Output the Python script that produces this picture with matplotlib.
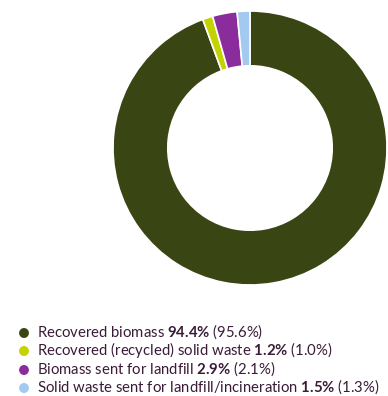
import matplotlib
matplotlib.use("Agg")
import matplotlib.pyplot as plt

labels = [
    "Recovered biomass",
    "Recovered (recycled) solid waste",
    "Biomass sent for landfill",
    "Solid waste sent for landfill/incineration",
]
current = [94.4, 1.2, 2.9, 1.5]
previous = [95.6, 1.0, 2.1, 1.3]
colors = ["#3a4514", "#c4d300", "#8b2c9c", "#a3c9f0"]
text_color = "#3a1c38"

plt.rcParams["mathtext.fontset"] = "custom"
plt.rcParams["mathtext.rm"] = "Lato"
plt.rcParams["mathtext.bf"] = "Lato:bold"

W, H = 388, 396
fig = plt.figure(figsize=(W / 100, H / 100), dpi=100)

# donut
cx, cy, r = 250, 148, 137
ax = fig.add_axes([(cx - r) / W, (H - cy - r) / H, 2 * r / W, 2 * r / H])
ax.pie(current, colors=colors, startangle=90, counterclock=False,
       wedgeprops=dict(width=0.4, edgecolor="white", linewidth=1.2))
ax.set_xlim(-1, 1)
ax.set_ylim(-1, 1)
ax.set_aspect("equal")
ax.axis("off")

# legend: label, bold current share, previous share in brackets
fs = 10.7
rows_y = [333, 351, 370, 388]
for lab, cur, prev, col, y in zip(labels, current, previous, colors, rows_y):
    fy = 1 - y / H
    fig.patches.append(plt.Circle((24 / W, fy), 4.2 / W, transform=fig.transFigure,
                                  color=col, clip_on=False))
    s = f"{lab} " + r"$\mathbf{" + f"{cur:.1f}" + r"\%}$" + f" ({prev:.1f}%)"
    fig.text(37 / W, 1 - (y + 4) / H, s, fontsize=fs, family="Lato",
             color=text_color, va="baseline", ha="left")

fig.savefig("out.png", dpi=100)
